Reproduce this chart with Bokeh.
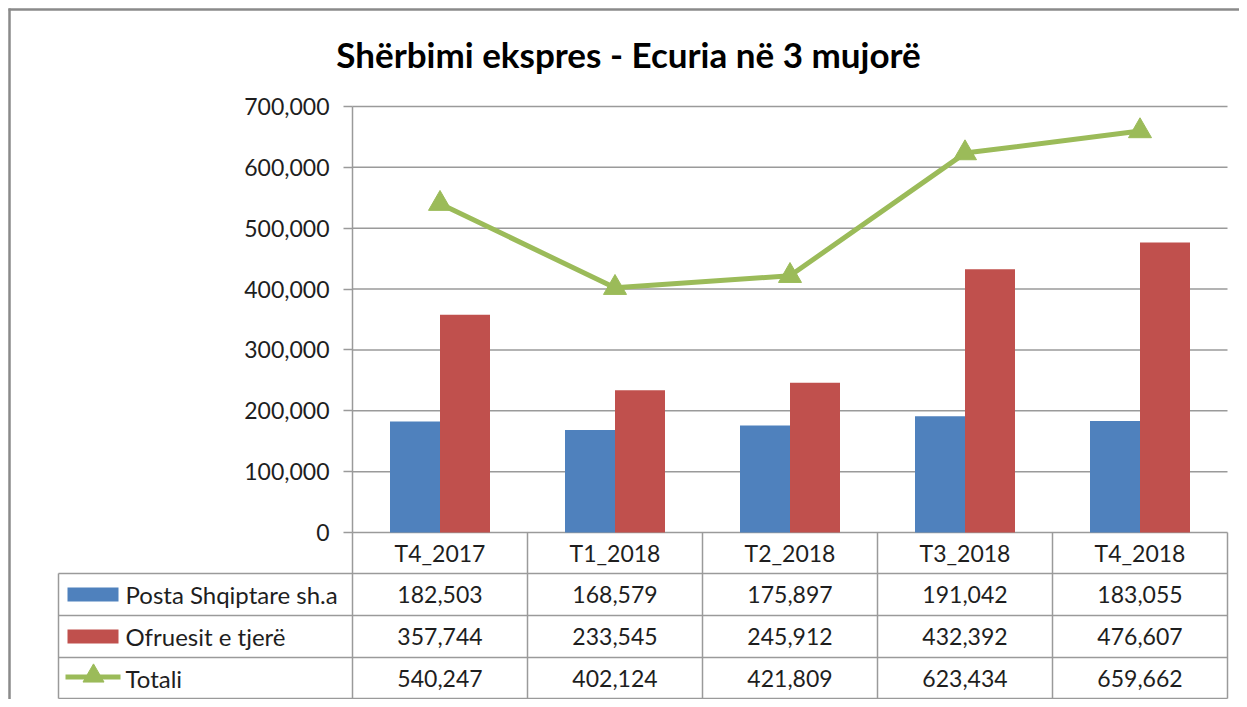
from bokeh.plotting import figure
from bokeh.models import Range1d, FixedTicker, NumeralTickFormatter
from bokeh.core.properties import value
from bokeh.embed import file_html
from bokeh.resources import INLINE

# ---------------- data ----------------
categories = ["T4_2017", "T1_2018", "T2_2018", "T3_2018", "T4_2018"]
posta = [182503, 168579, 175897, 191042, 183055]
ofruesit = [357744, 233545, 245912, 432392, 476607]
totali = [540247, 402124, 421809, 623434, 659662]
series_names = ["Posta Shqiptare sh.a", "Ofruesit e tjerë", "Totali"]
y_ticks = [0, 100000, 200000, 300000, 400000, 500000, 600000, 700000]
title_text = "Shërbimi ekspres - Ecuria në 3 mujorë"

# ---------------- style / layout ----------------
BLUE, RED, GREEN = "#4F81BD", "#C0504D", "#9BBB59"
GRID = "#9a9a9a"
TXT = "#1e1e1e"
FONT = "Lato"
W, H = 1239, 699
OFF = 0
PLOT_L, PLOT_R, PLOT_T, PLOT_B = 352, 1227, 106, 532
TABLE_L = 58
ROW_LINES = [573, 615, 657, 698]
CAT_W = (PLOT_R - PLOT_L) / len(categories)
YMAX = y_ticks[-1]
PX = YMAX / (PLOT_B - PLOT_T)


def xv(px):
    return (px - PLOT_L) / CAT_W - 0.5


def yv(py):
    return (PLOT_B - py) * PX


p = figure(width=W, height=H, output_backend="svg", toolbar_location=None,
           x_range=Range1d(xv(OFF), xv(OFF + W)),
           y_range=Range1d(yv(OFF + H), yv(OFF)),
           x_axis_type=None, min_border=0)
p.outline_line_color = None
p.grid.visible = False
p.background_fill_color = "white"
p.border_fill_color = "white"

n = len(categories)
idx = list(range(n))
x_first, x_last = -0.5, n - 0.5

# gridlines
p.segment(x0=[x_first] * len(y_ticks), x1=[x_last] * len(y_ticks),
          y0=y_ticks, y1=y_ticks, line_color=GRID, line_width=1.5)

# bars
bw = 50 / CAT_W
p.vbar(x=[i - bw / 2 for i in idx], top=posta, bottom=0, width=bw,
       fill_color=BLUE, line_color=None)
p.vbar(x=[i + bw / 2 for i in idx], top=ofruesit, bottom=0, width=bw,
       fill_color=RED, line_color=None)

# total line
p.line(x=idx, y=totali, line_color=GREEN, line_width=5)
p.scatter(x=idx, y=totali, marker="triangle", size=23,
          fill_color=GREEN, line_color=GREEN)

# y axis at the plot-area left edge
ax = p.yaxis[0]
ax.fixed_location = x_first
ax.bounds = (0, YMAX)
ax.ticker = FixedTicker(ticks=y_ticks)
ax.formatter = NumeralTickFormatter(format="0,0")
ax.major_tick_out = 9
ax.major_tick_in = 0
ax.minor_tick_out = 0
ax.minor_tick_in = 0
ax.major_tick_line_color = GRID
ax.major_tick_line_width = 1.5
ax.axis_line_color = GRID
ax.axis_line_width = 1.5
ax.major_label_standoff = 14
ax.major_label_text_font = FONT
ax.major_label_text_font_size = "23px"
ax.major_label_text_color = TXT

# ---------------- data table ----------------
y_bot = yv(ROW_LINES[-1])
vx = [x_first] + [i + 0.5 for i in idx]
p.segment(x0=vx, x1=vx, y0=[0] * len(vx), y1=[y_bot] * len(vx),
          line_color=GRID, line_width=1.5)
p.segment(x0=[xv(TABLE_L)], x1=[xv(TABLE_L)], y0=[yv(ROW_LINES[0])], y1=[y_bot],
          line_color=GRID, line_width=1.5)
hy = [yv(r) for r in ROW_LINES]
p.segment(x0=[xv(TABLE_L)] * len(hy), x1=[x_last] * len(hy), y0=hy, y1=hy,
          line_color=GRID, line_width=1.5)

# header row (category labels)
p.text(x=idx, y=[yv((PLOT_B + ROW_LINES[0]) / 2)] * n, text=categories,
       text_align="center", text_baseline="middle", text_font=value(FONT),
       text_font_size="23px", text_color=TXT)

rows = [posta, ofruesit, totali]
row_mid = [(ROW_LINES[k] + ROW_LINES[k + 1]) / 2 for k in range(3)]
for vals, rm in zip(rows, row_mid):
    p.text(x=idx, y=[yv(rm)] * n, text=[f"{v:,}" for v in vals],
           text_align="center", text_baseline="middle", text_font=value(FONT),
           text_font_size="23px", text_color=TXT)

# legend keys in the table
p.quad(left=[xv(67)], right=[xv(118)], top=[yv(row_mid[0] - 7)], bottom=[yv(row_mid[0] + 7)],
       fill_color=BLUE, line_color=None)
p.quad(left=[xv(67)], right=[xv(118)], top=[yv(row_mid[1] - 7)], bottom=[yv(row_mid[1] + 7)],
       fill_color=RED, line_color=None)
p.segment(x0=[xv(65)], x1=[xv(120)], y0=[yv(row_mid[2] - 1)], y1=[yv(row_mid[2] - 1)],
          line_color=GREEN, line_width=5)
p.scatter(x=[xv(93)], y=[yv(row_mid[2] - 2)], marker="triangle", size=21,
          fill_color=GREEN, line_color=GREEN)
p.text(x=[xv(125)] * 3, y=[yv(r) for r in row_mid], text=series_names,
       text_align="left", text_baseline="middle", text_font=value(FONT),
       text_font_size="24px", text_color=TXT)

# title
p.text(x=[xv(628)], y=[yv(53)], text=[title_text], text_align="center",
       text_baseline="middle", text_font=value(FONT), text_font_size="35px",
       text_font_style="bold", text_color="#000000")

# outer chart border (left & top)
p.segment(x0=[xv(9), xv(8)], x1=[xv(9), xv(OFF + W)], y0=[yv(OFF + H), yv(9)],
          y1=[yv(8), yv(9)], line_color="#8a8a8a", line_width=2.5)

open("out.html", "w").write(file_html(p, INLINE))
